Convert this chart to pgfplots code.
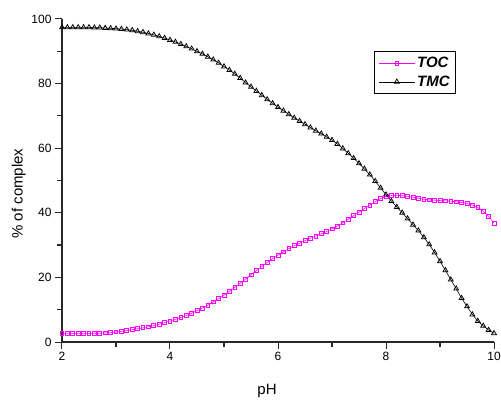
\documentclass[border=0pt]{standalone}
\usepackage{pgfplots}
\usepackage{pgfplotstable}
\usepackage{fontspec}
\setmainfont{Liberation Sans}
\pgfplotsset{compat=1.18}
\pgfplotstableread{
x y
2.0 2.6
2.1 2.6
2.2 2.6
2.3 2.6
2.4 2.6
2.5 2.6
2.6 2.6
2.7 2.7
2.8 2.8
2.9 2.9
3.0 3.1
3.1 3.3
3.2 3.5
3.3 3.8
3.4 4.1
3.5 4.4
3.6 4.7
3.7 5.1
3.8 5.5
3.9 6.0
4.0 6.5
4.1 7.0
4.2 7.6
4.3 8.2
4.4 8.9
4.5 9.7
4.6 10.5
4.7 11.4
4.8 12.4
4.9 13.4
5.0 14.5
5.1 15.7
5.2 16.9
5.3 18.2
5.4 19.5
5.5 20.8
5.6 22.1
5.7 23.4
5.8 24.6
5.9 25.8
6.0 26.9
6.1 27.9
6.2 28.9
6.3 29.8
6.4 30.6
6.5 31.4
6.6 32.1
6.7 32.8
6.8 33.5
6.9 34.2
7.0 35.0
7.1 35.9
7.2 36.9
7.3 38.0
7.4 39.1
7.5 40.2
7.6 41.3
7.7 42.4
7.8 43.5
7.9 44.4
8.0 45.0
8.1 45.3
8.2 45.4
8.3 45.3
8.4 45.1
8.5 44.8
8.6 44.5
8.7 44.2
8.8 44.0
8.9 43.9
9.0 43.8
9.1 43.7
9.2 43.6
9.3 43.4
9.4 43.2
9.5 42.9
9.6 42.4
9.7 41.6
9.8 40.5
9.9 38.9
10.0 36.8
}\toc
\pgfplotstableread{
x y
2.0 97.4
2.1 97.4
2.2 97.4
2.3 97.4
2.4 97.4
2.5 97.4
2.6 97.3
2.7 97.3
2.8 97.2
2.9 97.1
3.0 97.0
3.1 96.9
3.2 96.7
3.3 96.5
3.4 96.2
3.5 95.9
3.6 95.5
3.7 95.1
3.8 94.6
3.9 94.1
4.0 93.5
4.1 92.9
4.2 92.2
4.3 91.5
4.4 90.8
4.5 90.0
4.6 89.2
4.7 88.3
4.8 87.4
4.9 86.4
5.0 85.3
5.1 84.2
5.2 83.0
5.3 81.7
5.4 80.3
5.5 79.0
5.6 77.7
5.7 76.4
5.8 75.1
5.9 73.9
6.0 72.7
6.1 71.6
6.2 70.5
6.3 69.4
6.4 68.4
6.5 67.4
6.6 66.4
6.7 65.4
6.8 64.5
6.9 63.5
7.0 62.5
7.1 61.3
7.2 59.9
7.3 58.4
7.4 56.9
7.5 55.3
7.6 53.6
7.7 51.8
7.8 49.8
7.9 47.7
8.0 45.6
8.1 43.6
8.2 41.8
8.3 40.0
8.4 38.2
8.5 36.3
8.6 34.5
8.7 32.4
8.8 30.2
8.9 27.7
9.0 25.0
9.1 22.2
9.2 19.3
9.3 16.5
9.4 13.6
9.5 11.0
9.6 8.5
9.7 6.5
9.8 5.0
9.9 3.7
10.0 2.7
}\tmc
\definecolor{mag}{RGB}{255,0,255}
\definecolor{axc}{RGB}{40,40,40}
\begin{document}
\begin{tikzpicture}
\begin{axis}[
  scale only axis,
  width=432bp, height=323bp,
  xmin=2, xmax=10, ymin=0, ymax=100,
  axis x line*=bottom, axis y line*=left,
  axis line style={axc, line width=1.3bp},
  major tick style={draw=axc, line width=1bp},
  minor tick style={draw=axc, line width=1.2bp},
  tick align=outside,
  major tick length=7bp, minor tick length=4.5bp,
  xtick={2,4,6,8,10}, ytick={0,20,40,60,80,100},
  minor xtick={3,5,7,9}, minor ytick={10,30,50,70,90},
  /pgf/number format/assume math mode=true,
  ticklabel style={font=\fontsize{12bp}{14bp}\selectfont, text=black},
  xlabel={pH}, ylabel={\% of complex},
  label style={font=\fontsize{15bp}{17bp}\selectfont},
  xlabel style={xshift=-11bp, yshift=-16bp},
  ylabel style={yshift=-1bp, xshift=-13bp},
  legend style={at={(axis cs:7.78,90.1)}, anchor=north west,
    draw=black, line width=0.8bp, inner xsep=4bp, inner ysep=4bp,
    font=\fontsize{15bp}{17bp}\selectfont\bfseries\itshape,
    row sep=2.5bp, cells={anchor=west}},
  legend image code/.code={
    \draw[mark repeat=2,mark phase=2] plot coordinates {(0bp,0bp) (18bp,0bp) (36bp,0bp)};},
  clip=false,
]
\addplot[mag, line width=0.6bp, mark=square, mark size=1.9bp, mark options={fill=white, line width=0.8bp}] table {\toc};
\addlegendentry{TOC}
\addplot[black, line width=0.6bp, mark=triangle, mark size=2.8bp, mark options={fill=white, line width=0.75bp}] table {\tmc};
\addlegendentry{TMC}
\end{axis}
\pgfresetboundingbox
\path[use as bounding box] (-62bp,-59bp) rectangle (439bp,342bp);
\end{tikzpicture}
\end{document}
